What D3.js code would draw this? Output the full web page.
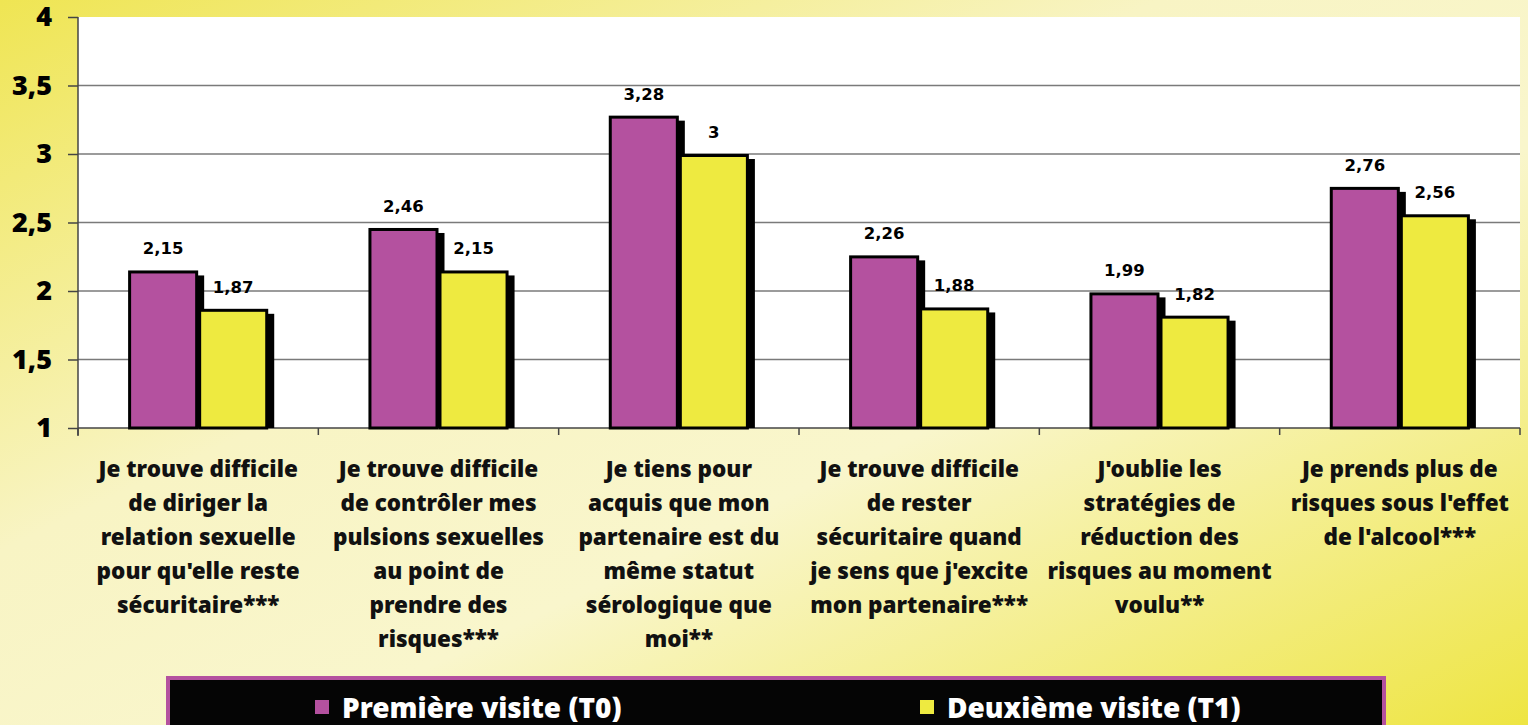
<!DOCTYPE html>
<html>
<head>
<meta charset="utf-8">
<script src="https://cdn.jsdelivr.net/npm/d3@7"></script>
<style>
  html, body { margin: 0; padding: 0; overflow: hidden; }
  svg { display: block; }
</style>
</head>
<body>
<svg id="chart"></svg>
<script>
// categories (x axis), one label per line
const categories = [
    ["Je trouve difficile", "de diriger la", "relation sexuelle", "pour qu'elle reste", "sécuritaire***"],
    ["Je trouve difficile", "de contrôler mes", "pulsions sexuelles", "au point de", "prendre des", "risques***"],
    ["Je tiens pour", "acquis que mon", "partenaire est du", "même statut", "sérologique que", "moi**"],
    ["Je trouve difficile", "de rester", "sécuritaire quand", "je sens que j'excite", "mon partenaire***"],
    ["J'oublie les", "stratégies de", "réduction des", "risques au moment", "voulu**"],
    ["Je prends plus de", "risques sous l'effet", "de l'alcool***"]
]
const seriesNames = ["Première visite (T0)", "Deuxième visite (T1)"]
const t0Values = [2.15, 2.46, 3.28, 2.26, 1.99, 2.76]
const t1Values = [1.87, 2.15, 3.00, 1.88, 1.82, 2.56]
const yTicks = [1, 1.5, 2, 2.5, 3, 3.5, 4]
const colors = ["#b4519f", "#eeea40"]

const width = 1528
const height = 725
const margin = { top: 17, right: 8, bottom: 297, left: 78 }
const innerWidth = width - margin.left - margin.right
const innerHeight = height - margin.top - margin.bottom

const catFont = "'Noto Sans', 'DejaVu Sans', sans-serif"
const numFont = "'DejaVu Sans', Verdana, sans-serif"

const fmt = v => String(v).replace('.', ',')

const data = categories.map((c, i) => ({
    key: i,
    lines: c,
    values: [
        { series: seriesNames[0], value: t0Values[i] },
        { series: seriesNames[1], value: t1Values[i] }
    ]
}))

const svg = d3.select('#chart')
    .attr('width', width)
    .attr('height', height)

// yellow diagonal background: saturated corners, light band in the middle
const defs = svg.append('defs')
const grad = defs.append('linearGradient')
    .attr('id', 'bg')
    .attr('x1', '0').attr('y1', '0').attr('x2', '1').attr('y2', '1')
grad.append('stop').attr('offset', '0%').attr('stop-color', '#efe553')
grad.append('stop').attr('offset', '38%').attr('stop-color', '#f8f4c4')
grad.append('stop').attr('offset', '60%').attr('stop-color', '#f9f6cc')
grad.append('stop').attr('offset', '100%').attr('stop-color', '#eee543')

svg.append('rect')
    .attr('width', width).attr('height', height)
    .attr('fill', 'url(#bg)')

const g = svg.append('g')
    .attr('transform', 'translate(' + margin.left + ',' + margin.top + ')')

const yScale = d3.scaleLinear()
    .domain([1, 4])
    .range([innerHeight, 0])

const xScale = d3.scaleBand()
    .domain(data.map(d => d.key))
    .range([0, innerWidth])
    .paddingInner(0.417)
    .paddingOuter(0.2085)

const xInner = d3.scaleBand()
    .domain(seriesNames)
    .range([0, xScale.bandwidth()])

const colorScale = d3.scaleOrdinal()
    .domain(seriesNames)
    .range(colors)

// plot area
g.append('rect')
    .attr('width', innerWidth)
    .attr('height', innerHeight)
    .attr('fill', '#ffffff')

// gridlines
g.append('g')
    .selectAll('line')
    .data(yTicks.filter(t => t > 1 && t < 4))
    .enter()
    .append('line')
    .attr('x1', 0).attr('x2', innerWidth)
    .attr('y1', d => yScale(d)).attr('y2', d => yScale(d))
    .attr('stroke', '#7a7a7a')
    .attr('stroke-width', 1.5)

// y axis
const yAxis = d3.axisLeft(yScale)
    .tickValues(yTicks)
    .tickFormat(fmt)
    .tickSize(10)
    .tickPadding(16)

const yAxisG = g.append('g').call(yAxis)
yAxisG.select('.domain').attr('stroke', '#444').attr('stroke-width', 1.5)
    .attr('d', 'M0,0V' + (innerHeight + 8))
yAxisG.selectAll('.tick line').attr('stroke', '#444').attr('stroke-width', 1.5)
yAxisG.selectAll('.tick text')
    .style('font-family', catFont)
    .style('font-weight', 900)
    .style('font-size', '27px')
    .attr('fill', '#000')

// x axis with ticks at category borders
const step = xScale.step()
const xAxisG = g.append('g').attr('transform', 'translate(0,' + innerHeight + ')')
xAxisG.append('line')
    .attr('x1', 0).attr('x2', innerWidth)
    .attr('stroke', '#444').attr('stroke-width', 1.5)
xAxisG.selectAll('.xtick')
    .data(d3.range(categories.length + 1))
    .enter()
    .append('line')
    .attr('class', 'xtick')
    .attr('x1', d => d * step).attr('x2', d => d * step)
    .attr('y1', 0).attr('y2', 7)
    .attr('stroke', '#444').attr('stroke-width', 1.5)

// category labels
xAxisG.selectAll('.catLabel')
    .data(data)
    .enter()
    .append('text')
    .attr('class', 'catLabel')
    .attr('text-anchor', 'middle')
    .style('font-family', catFont)
    .style('font-weight', 900)
    .style('font-size', '22.5px')
    .attr('fill', '#111')
    .each(function (d) {
        const t = d3.select(this)
        d.lines.forEach((line, i) => {
            t.append('tspan')
                .attr('x', xScale(d.key) + xScale.bandwidth() / 2)
                .attr('y', 49 + i * 34)
                .text(line)
        })
    })

// bars
const groups = g.selectAll('.group')
    .data(data)
    .enter()
    .append('g')
    .attr('class', 'group')
    .attr('transform', d => 'translate(' + xScale(d.key) + ',0)')

// shadows first
groups.selectAll('.shadow')
    .data(d => d.values)
    .enter()
    .append('rect')
    .attr('class', 'shadow')
    .attr('x', d => xInner(d.series) + 6)
    .attr('y', d => yScale(d.value) + 5)
    .attr('width', xInner.bandwidth())
    .attr('height', d => innerHeight - yScale(d.value) - 5)
    .attr('fill', '#000')

groups.selectAll('.bar')
    .data(d => d.values)
    .enter()
    .append('rect')
    .attr('class', 'bar')
    .attr('x', d => xInner(d.series) + 1.5)
    .attr('y', d => yScale(d.value) + 1.5)
    .attr('width', xInner.bandwidth() - 3)
    .attr('height', d => innerHeight - yScale(d.value) - 1.5)
    .attr('fill', d => colorScale(d.series))
    .attr('stroke', '#000')
    .attr('stroke-width', 3)

// value labels
groups.selectAll('.valLabel')
    .data(d => d.values)
    .enter()
    .append('text')
    .attr('class', 'valLabel')
    .attr('x', d => xInner(d.series) + xInner.bandwidth() / 2)
    .attr('y', d => yScale(d.value) - 16)
    .attr('text-anchor', 'middle')
    .style('font-family', numFont)
    .style('font-weight', 'bold')
    .style('font-size', '16.5px')
    .attr('fill', '#000')
    .text(d => fmt(d.value))

// legend
const legend = svg.append('g')
legend.append('rect')
    .attr('x', 168).attr('y', 678)
    .attr('width', 1216).attr('height', 70)
    .attr('fill', '#050505')
    .attr('stroke', '#b4519f')
    .attr('stroke-width', 4)

const legendX = [315, 920]
const items = legend.selectAll('.item')
    .data(seriesNames)
    .enter()
    .append('g')
    .attr('class', 'item')
    .attr('transform', (d, i) => 'translate(' + legendX[i] + ',0)')

items.append('rect')
    .attr('x', 0).attr('y', 700)
    .attr('width', 14).attr('height', 14)
    .attr('fill', d => colorScale(d))

items.append('text')
    .attr('x', 27).attr('y', 718)
    .style('font-family', catFont)
    .style('font-weight', 900)
    .style('font-size', '28px')
    .attr('fill', '#fff')
    .text(d => d)
</script>
</body>
</html>
